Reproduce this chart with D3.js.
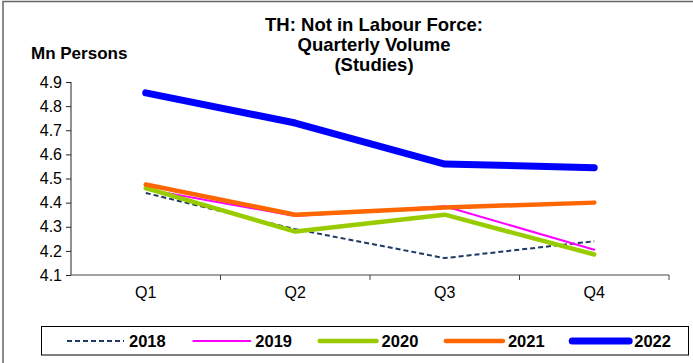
<!DOCTYPE html>
<html>
<head>
<meta charset="utf-8">
<script src="https://cdn.jsdelivr.net/npm/d3@7"></script>
<style>
  html, body { margin: 0; padding: 0; background: #fff; }
  svg { display: block; font-family: "Liberation Sans", Arial, sans-serif; }
</style>
</head>
<body>
<svg id="chart" width="693" height="363"></svg>
<script>
// Quarterly volume of people not in the labour force due to studies (million persons)
const quarters = ["Q1", "Q2", "Q3", "Q4"];
const years = ["2018", "2019", "2020", "2021", "2022"];
const v2018 = [4.44, 4.29, 4.17, 4.24];
const v2019 = [4.455, 4.345, 4.385, 4.205];
const v2020 = [4.46, 4.28, 4.35, 4.185];
const v2021 = [4.475, 4.35, 4.38, 4.40];
const v2022 = [4.855, 4.73, 4.56, 4.545];
const yTicks = [4.1, 4.2, 4.3, 4.4, 4.5, 4.6, 4.7, 4.8, 4.9];
const titleLines = ["TH: Not in Labour Force:", "Quarterly Volume", "(Studies)"];

const seriesValues = [v2018, v2019, v2020, v2021, v2022];
const seriesStyle = [
  { color: "#1F3864", width: 2, dash: "5,3" },
  { color: "#FF00FF", width: 2, dash: null },
  { color: "#99CC00", width: 4.5, dash: null },
  { color: "#FF6600", width: 4.5, dash: null },
  { color: "#0000FF", width: 7, dash: null }
];

const svg = d3.select("#chart");

// outer frame
svg.append("rect")
  .attr("x", 3).attr("y", 1.5)
  .attr("width", 900).attr("height", 900)
  .attr("fill", "none").attr("stroke", "#666").attr("stroke-width", 1.5);

const plot = { left: 71, right: 669, top: 82, bottom: 275 };

const x = d3.scaleBand().domain(quarters).range([plot.left, plot.right]);
const y = d3.scaleLinear().domain([4.1, 4.9]).range([plot.bottom, plot.top]);

// title
svg.append("text")
  .attr("x", 374).attr("text-anchor", "middle")
  .attr("font-size", 18.5).attr("font-weight", "bold")
  .selectAll("tspan").data(titleLines).join("tspan")
  .attr("x", 374).attr("y", (d, i) => 30.7 + i * 20)
  .text(d => d);

svg.append("text")
  .attr("x", 31).attr("y", 59)
  .attr("font-size", 17).attr("font-weight", "bold")
  .text("Mn Persons");

// y axis
const yAxis = svg.append("g")
  .attr("transform", `translate(${plot.left},0)`)
  .call(d3.axisLeft(y).tickValues(yTicks).tickFormat(d3.format(".1f")).tickSize(5).tickPadding(4));
yAxis.select(".domain").attr("stroke", "#222").attr("d", `M0,${plot.top}V${plot.bottom}`);
yAxis.selectAll(".tick line").attr("stroke", "#222");
yAxis.selectAll(".tick text").attr("font-size", 16).attr("fill", "#000")
  .attr("font-family", "Liberation Sans, Arial, sans-serif");

// x axis
const xAxis = svg.append("g")
  .attr("transform", `translate(0,${plot.bottom})`)
  .call(d3.axisBottom(x).tickSize(0).tickPadding(12));
xAxis.select(".domain").attr("stroke", "#444").attr("d", `M${plot.left},0H${plot.right}`);
xAxis.selectAll(".tick text").attr("font-size", 16).attr("fill", "#000")
  .attr("font-family", "Liberation Sans, Arial, sans-serif")
  .attr("dy", "0.71em");
// boundary ticks between categories
const edges = quarters.slice(1).map(q => x(q)).concat([plot.right]);
xAxis.selectAll("line.edge").data(edges).join("line")
  .attr("class", "edge")
  .attr("x1", d => d).attr("x2", d => d)
  .attr("y1", 0).attr("y2", 5)
  .attr("stroke", "#444");

// series lines
const line = d3.line()
  .x((d, i) => x(quarters[i]) + x.bandwidth() / 2)
  .y(d => y(d));

svg.append("g").selectAll("path").data(seriesValues).join("path")
  .attr("d", d => line(d))
  .attr("fill", "none")
  .attr("stroke", (d, i) => seriesStyle[i].color)
  .attr("stroke-width", (d, i) => seriesStyle[i].width)
  .attr("stroke-dasharray", (d, i) => seriesStyle[i].dash)
  .attr("stroke-linecap", (d, i) => seriesStyle[i].dash ? "butt" : "round")
  .attr("stroke-linejoin", "round");

// legend
svg.append("rect")
  .attr("x", 41.5).attr("y", 326.5)
  .attr("width", 647).attr("height", 28.5)
  .attr("fill", "none").attr("stroke", "#000").attr("stroke-width", 1);

const legend = svg.append("g").selectAll("g").data(years).join("g")
  .attr("transform", (d, i) => `translate(${67 + i * 126.3},341)`);
legend.append("line")
  .attr("x1", 0).attr("x2", 57).attr("y1", 0).attr("y2", 0)
  .attr("stroke", (d, i) => seriesStyle[i].color)
  .attr("stroke-width", (d, i) => seriesStyle[i].width)
  .attr("stroke-dasharray", (d, i) => seriesStyle[i].dash)
  .attr("stroke-linecap", (d, i) => seriesStyle[i].dash ? "butt" : "round");
legend.append("text")
  .attr("x", 62).attr("y", 0).attr("dy", "0.36em")
  .attr("font-size", 16.5).attr("font-weight", "bold")
  .text(d => d);
</script>
</body>
</html>
